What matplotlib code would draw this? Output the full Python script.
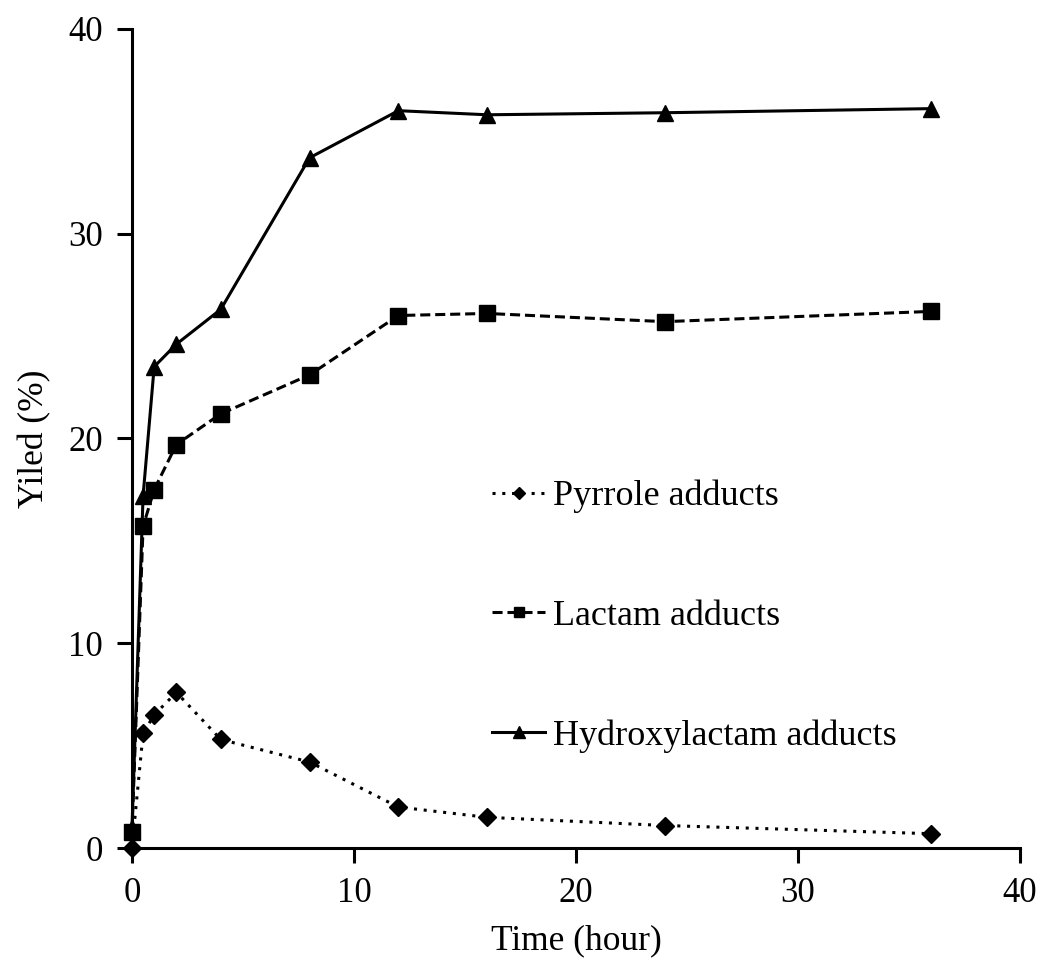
import matplotlib
matplotlib.use("Agg")
import matplotlib.pyplot as plt

time_h = [0, 0.5, 1, 2, 4, 8, 12, 16, 24, 36]
pyrrole = [0.0, 5.6, 6.5, 7.6, 5.3, 4.2, 2.0, 1.5, 1.1, 0.7]
lactam = [0.8, 15.7, 17.5, 19.7, 21.2, 23.1, 26.0, 26.1, 25.7, 26.2]
hydroxylactam = [1.0, 17.2, 23.5, 24.6, 26.3, 33.7, 36.0, 35.8, 35.9, 36.1]
xticks = [0, 10, 20, 30, 40]
yticks = [0, 10, 20, 30, 40]

plt.rcParams['font.family'] = ['Liberation Serif', 'DejaVu Serif']

fig = plt.figure(figsize=(10.5, 9.65), dpi=100)
ax = fig.add_axes([0.1257, 0.1212, 0.8457, 0.849])

ax.plot(time_h, pyrrole, color='black', linestyle=(0, (1, 2.2)), linewidth=2.2,
        marker='D', markersize=9, label='Pyrrole adducts', clip_on=False, zorder=3)
ax.plot(time_h, lactam, color='black', linestyle=(0, (3.3, 1.6)), linewidth=2.2,
        marker='s', markersize=11, label='Lactam adducts', clip_on=False, zorder=3)
ax.plot(time_h, hydroxylactam, color='black', linestyle='-', linewidth=2.2,
        marker='^', markersize=12, label='Hydroxylactam adducts', clip_on=False, zorder=3)

ax.set_xlim(0, 40)
ax.set_ylim(0, 40)
ax.set_xticks(xticks)
ax.set_yticks(yticks)
ax.spines['top'].set_visible(False)
ax.spines['right'].set_visible(False)
ax.spines['left'].set_linewidth(2.2)
ax.spines['bottom'].set_linewidth(2.2)
ax.tick_params(axis='both', direction='out', length=11, width=2.2, labelsize=25, pad=10)
ax.set_xlabel('Time (hour)', fontsize=25.5, labelpad=10)
ax.set_ylabel('Yiled (%)', fontsize=25.5, labelpad=12)

ax.legend(loc='upper left', bbox_to_anchor=(0.369, 0.489), frameon=False,
          fontsize=26, labelspacing=2.39, handlelength=1.47, handletextpad=0.22,
          markerscale=0.7)

fig.savefig('out.png', dpi=100)
